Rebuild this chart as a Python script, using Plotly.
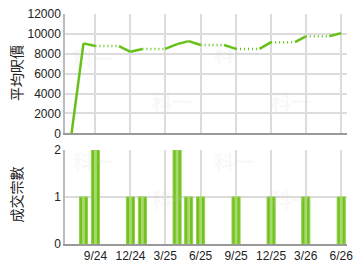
import plotly.graph_objects as go

months = ["2024-07-01","2024-08-01","2024-09-01","2024-10-01","2024-11-01","2024-12-01",
          "2025-01-01","2025-02-01","2025-03-01","2025-04-01","2025-05-01","2025-06-01",
          "2025-07-01","2025-08-01","2025-09-01","2025-10-01","2025-11-01","2025-12-01",
          "2026-01-01","2026-02-01","2026-03-01","2026-04-01","2026-05-01","2026-06-01"]
avg_price = [0, 9050, 8780, None, None, 8200,
             8490, None, None, 8970, 9270, 8880,
             None, None, 8490, None, None, 9170,
             None, None, 9760, None, None, 10080]
deal_count = [0, 1, 2, 0, 0, 1,
              1, 0, 0, 2, 1, 1,
              0, 0, 1, 0, 0, 1,
              0, 0, 1, 0, 0, 1]
tick_vals = ["2024-09-01","2024-12-01","2025-03-01","2025-06-01","2025-09-01",
             "2025-12-01","2026-03-01","2026-06-01"]
tick_labels = ["9/24","12/24","3/25","6/25","9/25","12/25","3/26","6/26"]
price_ticks = [0, 2000, 4000, 6000, 8000, 10000, 12000]
price_labels = ["0", "2000", "4000", "6000", "8000", "10000", "12000"]
count_ticks = [0, 1, 2]

# build solid / dotted segments (missing months carry previous value, dotted)
sx, sy, dx, dy = [], [], [], []
real = [i for i, v in enumerate(avg_price) if v is not None]
for a, b in zip(real[:-1], real[1:]):
    va, vb = avg_price[a], avg_price[b]
    if b == a + 1:
        sx += [months[a], months[b], None]; sy += [va, vb, None]
    else:
        dx += [months[a], months[b-1], None]; dy += [va, va, None]
        sx += [months[b-1], months[b], None]; sy += [va, vb, None]

bars = [c if c else None for c in deal_count]

GREEN = "#66c116"
fig = go.Figure()
fig.add_trace(go.Scatter(x=dx, y=dy, mode="lines", line=dict(color=GREEN, width=2.5, dash="1px,3px"),
                         xaxis="x", yaxis="y", hoverinfo="skip"))
fig.add_trace(go.Scatter(x=sx, y=sy, mode="lines", line=dict(color=GREEN, width=2.5),
                         xaxis="x", yaxis="y", hoverinfo="skip"))
bw = 21 * 86400000
fig.add_trace(go.Bar(x=months, y=bars, width=bw, marker=dict(color="#74c022", line=dict(color="#8fd14a", width=1)),
                     xaxis="x2", yaxis="y2"))
fig.add_trace(go.Bar(x=months, y=bars, width=bw*0.35, marker=dict(color="#a6da6a", line=dict(width=0)),
                     xaxis="x2", yaxis="y2"))

xr = ["2024-06-14", "2026-06-16"]
grid = "#dcdcdc"
tickfont = dict(family="Liberation Sans, Arial", size=12, color="#222")
fig.update_layout(
    width=360, height=270, margin=dict(l=65, r=7, t=7, b=26),
    paper_bgcolor="white", plot_bgcolor="white", showlegend=False, barmode="overlay",
    xaxis=dict(range=xr, type="date", domain=[0, 1], anchor="y", tickvals=tick_vals, ticktext=tick_labels,
               showticklabels=False, showgrid=True, gridcolor=grid, gridwidth=1.5,
               showline=True, linecolor="#999", linewidth=1.5, ticks=""),
    yaxis=dict(range=[0, 12000], domain=[0.481, 1], tickvals=price_ticks, ticktext=price_labels,
               showgrid=True, gridcolor=grid,
               gridwidth=1.5, showline=True, linecolor="#bbb", linewidth=1.5, tickfont=tickfont,
               ticks="", zeroline=False),
    xaxis2=dict(range=xr, type="date", domain=[0, 1], anchor="y2", tickvals=tick_vals, ticktext=tick_labels,
                showgrid=True, gridcolor=grid, gridwidth=1.5, showline=True, linecolor="#999", linewidth=1.5,
                tickfont=tickfont, ticks="", ticklen=0),
    yaxis2=dict(range=[0, 2], domain=[0, 0.409], tickvals=count_ticks, showgrid=True, gridcolor=grid,
                gridwidth=1.5, showline=True, linecolor="#bbb", linewidth=1.5, tickfont=tickfont,
                ticks="", zeroline=False),
)
titlefont = dict(family="Noto Sans CJK TC", size=14, color="#222")
fig.add_annotation(text="平均呎價", xref="paper", yref="paper", x=-0.174, y=0.743, textangle=-90,
                   showarrow=False, font=titlefont, xanchor="center", yanchor="middle")
fig.add_annotation(text="成交宗數", xref="paper", yref="paper", x=-0.174, y=0.215, textangle=-90,
                   showarrow=False, font=titlefont, xanchor="center", yanchor="middle")
wm = dict(family="Noto Sans CJK TC", size=20, color="rgba(200,200,200,0.12)")
for (px, py) in [(0.02, 0.88), (0.3, 0.62), (0.6, 0.9), (0.88, 0.62), (0.02, 0.36), (0.3, 0.12), (0.6, 0.36), (0.88, 0.12)]:
    fig.add_annotation(text="<b>科一</b>", xref="paper", yref="paper", x=px, y=py, showarrow=False, font=wm)
fig.write_html("out.html")
